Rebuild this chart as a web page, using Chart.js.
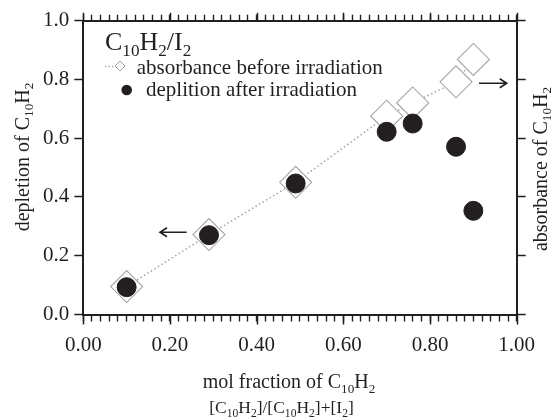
<!DOCTYPE html>
<html><head><meta charset="utf-8">
<script src="https://cdn.jsdelivr.net/npm/chart.js@4.4.0/dist/chart.umd.min.js"></script>
<style>html,body{margin:0;padding:0;background:#fff}canvas{display:block}</style>
</head><body>
<canvas id="c" width="553" height="417"></canvas>
<script>
// ---- data ----
const molFraction      = [0.10, 0.29, 0.49, 0.70, 0.76, 0.86, 0.90];
const absorbanceBefore = [0.095, 0.272, 0.450, 0.675, 0.720, 0.792, 0.868];
const depletionAfter   = [0.093, 0.270, 0.446, 0.622, 0.650, 0.571, 0.353];
const xTickLabels = ['0.00', '0.20', '0.40', '0.60', '0.80', '1.00'];
const yTickLabels = ['0.0', '0.2', '0.4', '0.6', '0.8', '1.0'];
const legendTitle = [['C'], ['10', 1], ['H'], ['2', 1], ['/I'], ['2', 1]];
const legendLabels = ['absorbance before irradiation', 'deplition after irradiation'];
const xTitle1 = [['mol fraction of C'], ['10', 1], ['H'], ['2', 1]];
const xTitle2 = [['[C'], ['10', 1], ['H'], ['2', 1], [']/[C'], ['10', 1], ['H'], ['2', 1], [']+[I'], ['2', 1], [']']];
const yTitleLeft = [['depletion of C'], ['10', 1], ['H'], ['2', 1]];
const yTitleRight = [['absorbance of C'], ['10', 1], ['H'], ['2', 1]];

const INK = '#231f20';
const GRAY = '#a3a3a3';
const FAM = "'Liberation Serif', 'Times New Roman', serif";

function richWidth(ctx, parts, size) {
  let w = 0;
  for (const [t, sub] of parts) {
    ctx.font = (sub ? size * 0.66 : size) + 'px ' + FAM;
    w += ctx.measureText(t).width;
  }
  return w;
}
function drawRich(ctx, parts, x, y, size, align) {
  const w = richWidth(ctx, parts, size);
  let cx = align === 'center' ? x - w / 2 : x;
  ctx.textAlign = 'left';
  ctx.textBaseline = 'alphabetic';
  for (const [t, sub] of parts) {
    ctx.font = (sub ? size * 0.66 : size) + 'px ' + FAM;
    ctx.fillText(t, cx, y + (sub ? size * 0.24 : 0));
    cx += ctx.measureText(t).width;
  }
}
function arrow(ctx, x0, x1, y) {
  const dir = Math.sign(x1 - x0);
  ctx.beginPath();
  ctx.moveTo(x0, y); ctx.lineTo(x1, y);
  ctx.moveTo(x1 - dir * 7, y - 4.5); ctx.lineTo(x1, y); ctx.lineTo(x1 - dir * 7, y + 4.5);
  ctx.stroke();
}

const decor = {
  id: 'decor',
  afterDraw(chart) {
    const ctx = chart.ctx;
    const xs = chart.scales.x, ys = chart.scales.y;
    const ca = chart.chartArea;
    ctx.save();
    ctx.fillStyle = INK;
    ctx.strokeStyle = INK;
    // longer major ticks on top and bottom
    ctx.lineWidth = 1.5;
    xTickLabels.forEach((l, i) => {
      const px = Math.round(xs.getPixelForValue(i * 0.2)) + 0.5;
      ctx.beginPath();
      ctx.moveTo(px, ca.bottom); ctx.lineTo(px, ca.bottom + 10);
      ctx.moveTo(px, ca.top); ctx.lineTo(px, ca.top - 8);
      ctx.stroke();
    });
    // axis titles
    drawRich(ctx, xTitle1, 289, 388, 20, 'center');
    drawRich(ctx, xTitle2, 281.5, 413, 17.5, 'center');
    ctx.save(); ctx.translate(28.5, 157); ctx.rotate(-Math.PI / 2);
    drawRich(ctx, yTitleLeft, 0, 0, 20, 'center'); ctx.restore();
    ctx.save(); ctx.translate(546.5, 169); ctx.rotate(-Math.PI / 2);
    drawRich(ctx, yTitleRight, 0, 0, 20, 'center'); ctx.restore();
    // arrows pointing to the axes
    ctx.lineWidth = 1.6;
    arrow(ctx, xs.getPixelForValue(0.2385), xs.getPixelForValue(0.177), ys.getPixelForValue(0.28));
    arrow(ctx, xs.getPixelForValue(0.913), xs.getPixelForValue(0.977), ys.getPixelForValue(0.787));
    // legend
    drawRich(ctx, legendTitle, 105, 50, 26, 'left');
    ctx.strokeStyle = GRAY; ctx.lineWidth = 1.3; ctx.setLineDash([1.3, 2.2]);
    ctx.beginPath(); ctx.moveTo(105, 66.5); ctx.lineTo(116, 66.5); ctx.stroke();
    ctx.setLineDash([]); ctx.lineWidth = 1;
    ctx.fillStyle = '#fff';
    ctx.beginPath(); ctx.moveTo(115, 66); ctx.lineTo(120, 61); ctx.lineTo(125, 66); ctx.lineTo(120, 71); ctx.closePath();
    ctx.fill(); ctx.stroke();
    ctx.fillStyle = INK;
    ctx.beginPath(); ctx.arc(126.7, 90, 5.3, 0, Math.PI * 2); ctx.fill();
    ctx.font = '21px ' + FAM; ctx.textAlign = 'left'; ctx.textBaseline = 'alphabetic';
    ctx.fillText(legendLabels[0], 136.7, 74);
    ctx.fillText(legendLabels[1], 146, 96);
    ctx.restore();
  }
};

const tickFont = { family: FAM, size: 21 };
const isMajor = v => Math.abs(v * 5 - Math.round(v * 5)) < 1e-6;

new Chart(document.getElementById('c'), {
  type: 'scatter',
  data: {
    datasets: [
      {
        label: legendLabels[1],
        data: molFraction.map((x, i) => ({ x, y: depletionAfter[i] })),
        pointStyle: 'circle', pointRadius: 9.5, pointBorderWidth: 1,
        pointBackgroundColor: INK, pointBorderColor: INK,
        showLine: false, order: 0, xAxisID: 'x', yAxisID: 'y'
      },
      {
        label: legendLabels[0],
        data: molFraction.map((x, i) => ({ x, y: absorbanceBefore[i] })),
        showLine: true, borderColor: GRAY, borderWidth: 1.5, borderDash: [1.5, 2.6],
        pointStyle: 'rectRot', pointRadius: 16, pointBorderWidth: 1.1,
        pointBackgroundColor: '#fff', pointBorderColor: GRAY,
        order: 1, xAxisID: 'x', yAxisID: 'y'
      }
    ]
  },
  options: {
    responsive: false, animation: false, devicePixelRatio: 1,
    layout: { padding: 0 },
    plugins: { legend: { display: false }, tooltip: { enabled: false } },
    scales: {
      x: {
        type: 'linear', position: 'bottom', min: 0, max: 1,
        ticks: { stepSize: 0.02, autoSkip: false, maxRotation: 0, padding: 11, font: tickFont, color: INK,
                 callback: v => isMajor(v) ? xTickLabels[Math.round(v * 5)] : '' },
        grid: { drawOnChartArea: false, tickLength: 7, tickWidth: 1.4, tickColor: INK },
        border: { width: 2, color: INK },
        afterFit(s) { s.height = 102.5; }
      },
      xTop: {
        type: 'linear', position: 'top', min: 0, max: 1,
        ticks: { display: false, stepSize: 0.02 },
        grid: { drawOnChartArea: false, tickLength: 6, tickWidth: 1.4, tickColor: INK },
        border: { width: 2, color: INK },
        afterFit(s) { s.height = 20.7; }
      },
      y: {
        type: 'linear', position: 'left', min: 0, max: 1,
        ticks: { stepSize: 0.2, padding: 5, font: tickFont, color: INK,
                 callback: v => yTickLabels[Math.round(v * 5)] },
        grid: { drawOnChartArea: false, tickLength: 9, tickWidth: 1.5, tickColor: INK },
        border: { width: 2, color: INK },
        afterFit(s) { s.width = 83.3; }
      },
      yRight: {
        type: 'linear', position: 'right', min: 0, max: 1,
        ticks: { display: false, stepSize: 0.2 },
        grid: { drawOnChartArea: false, tickLength: 9, tickWidth: 1.5, tickColor: INK },
        border: { width: 2, color: INK },
        afterFit(s) { s.width = 36.3; }
      }
    }
  },
  plugins: [decor]
});
</script>
</body></html>
